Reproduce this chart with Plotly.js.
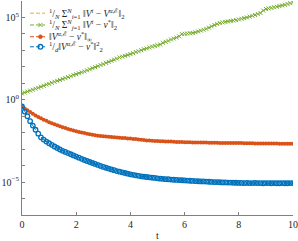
<!DOCTYPE html>
<html>
<head>
<meta charset="utf-8">
<script src="https://cdn.plot.ly/plotly-3.0.1.min.js"></script>
<style>html,body{margin:0;padding:0;background:#fff;}#chart{width:298px;height:241px;}</style>
</head>
<body>
<div id="chart"></div>
<script>
var t = [0,0.1,0.2,0.3,0.4,0.5,0.6,0.7,0.8,0.9,1,1.1,1.2,1.3,1.4,1.5,1.6,1.7,1.8,1.9,2,2.1,2.2,2.3,2.4,2.5,2.6,2.7,2.8,2.9,3,3.1,3.2,3.3,3.4,3.5,3.6,3.7,3.8,3.9,4,4.1,4.2,4.3,4.4,4.5,4.6,4.7,4.8,4.9,5,5.1,5.2,5.3,5.4,5.5,5.6,5.7,5.8,5.9,6,6.1,6.2,6.3,6.4,6.5,6.6,6.7,6.8,6.9,7,7.1,7.2,7.3,7.4,7.5,7.6,7.7,7.8,7.9,8,8.1,8.2,8.3,8.4,8.5,8.6,8.7,8.8,8.9,9,9.1,9.2,9.3,9.4,9.5,9.6,9.7,9.8,9.9,10];

var agentError = [2.40,2.75,3.16,3.63,4.07,4.68,5.37,6.17,7.08,8.32,9.33,10.7,12.3,14.1,15.8,18.2,20.9,24.0,26.9,31.6,35.5,40.7,46.8,52.5,61.7,70.8,83.2,95.5,110,129,148,174,200,234,275,316,372,417,468,525,603,676,794,891,1020,1175,1318,1514,1698,1862,2042,2291,2884,3311,3802,4571,5248,6026,7079,9772,10230,10470,10960,11480,12590,14130,15850,17780,20420,23990,28840,34670,40740,45710,50120,53700,57540,61660,64570,69180,75860,83180,91200,100000,112200,125900,141300,162200,186200,263000,331100,354800,380200,416900,446700,489800,537000,588800,660700,741300,831800];

var supError = [0.389,0.295,0.229,0.178,0.141,0.112,0.0912,0.0741,0.0617,0.0525,0.0437,0.0372,0.0324,0.0282,0.0245,0.0214,0.0191,0.0170,0.0151,0.0135,0.0123,0.0112,0.0102,0.00955,0.00871,0.00813,0.00759,0.00708,0.00661,0.00631,0.00603,0.00589,0.00575,0.00550,0.00537,0.00513,0.00501,0.00479,0.00468,0.00447,0.00437,0.00417,0.00407,0.00389,0.00372,0.00355,0.00339,0.00331,0.00324,0.00316,0.00309,0.00302,0.00302,0.00295,0.00295,0.00288,0.00282,0.00275,0.00269,0.00269,0.00263,0.00263,0.00263,0.00257,0.00257,0.00257,0.00251,0.00251,0.00251,0.00245,0.00245,0.00245,0.00245,0.00240,0.00240,0.00240,0.00240,0.00234,0.00234,0.00234,0.00234,0.00234,0.00229,0.00229,0.00229,0.00229,0.00224,0.00224,0.00224,0.00224,0.00219,0.00219,0.00219,0.00219,0.00219,0.00214,0.00214,0.00214,0.00214,0.00214,0.00214];

var msError = [0.389,0.191,0.100,0.0501,0.0269,0.0151,8.71e-3,5.25e-3,3.80e-3,2.88e-3,2.29e-3,1.82e-3,1.445e-3,1.175e-3,9.55e-4,7.94e-4,6.76e-4,5.75e-4,4.90e-4,4.17e-4,3.55e-4,3.02e-4,2.57e-4,2.19e-4,1.905e-4,1.66e-4,1.445e-4,1.259e-4,1.096e-4,9.55e-5,8.32e-5,7.41e-5,6.61e-5,5.89e-5,5.25e-5,4.68e-5,4.27e-5,3.89e-5,3.55e-5,3.24e-5,2.95e-5,2.75e-5,2.57e-5,2.40e-5,2.24e-5,2.14e-5,2.04e-5,1.95e-5,1.86e-5,1.78e-5,1.70e-5,1.62e-5,1.585e-5,1.51e-5,1.48e-5,1.41e-5,1.38e-5,1.35e-5,1.32e-5,1.29e-5,1.26e-5,1.23e-5,1.20e-5,1.175e-5,1.15e-5,1.12e-5,1.10e-5,1.10e-5,1.07e-5,1.05e-5,1.02e-5,1.00e-5,1.00e-5,9.77e-6,9.55e-6,9.55e-6,9.33e-6,9.33e-6,9.12e-6,9.12e-6,8.91e-6,8.91e-6,8.71e-6,8.91e-6,8.71e-6,8.71e-6,8.91e-6,8.71e-6,8.71e-6,8.51e-6,8.71e-6,8.71e-6,8.51e-6,8.71e-6,8.51e-6,8.51e-6,8.71e-6,8.51e-6,8.51e-6,8.71e-6,8.71e-6];

var yTickVals = [1e-7,1e-6,1e-5,1e-4,1e-3,1e-2,1e-1,1,1e1,1e2,1e3,1e4,1e5,1e6];
var yTickText = ['','','10<sup>−5</sup>','','','','','10<sup>0</sup>','','','','','10<sup>5</sup>',''];
var xTickVals = [0,2,4,6,8,10];

var seriesNames = [
  '<sup>1</sup>/<sub><i>N</i></sub> Σ<sup><i>N</i></sup><sub><i>i</i>=1</sub> ‖<i>V</i><sup><i>i</i></sup> − <i>V</i><sup><i>α</i>,ℰ</sup>‖<sub>2</sub>',
  '<sup>1</sup>/<sub><i>N</i></sub> Σ<sup><i>N</i></sup><sub><i>j</i>=1</sub> ‖<i>V</i><sup><i>i</i></sup> − <i>v</i><sup>*</sup>‖<sub>2</sub>',
  '‖<i>V</i><sup><i>α</i>,ℰ</sup> − <i>v</i><sup>*</sup>‖<sub>∞</sub>',
  '<sup>1</sup>/<sub><i>d</i></sub>‖<i>V</i><sup><i>α</i>,ℰ</sup> − <i>v</i><sup>*</sup>‖<sup>2</sup><sub>2</sub>'
];
var seriesColors = ['#EDB120', '#77AC30', '#D95319', '#0072BD'];
var seriesSymbols = ['none', 'x', 'dot', 'ring'];

var traces = [
  {x: t, y: agentError, name: seriesNames[1], type: 'scatter', mode: 'lines+markers',
   line: {color: seriesColors[1], width: 1, dash: 'dash'},
   marker: {symbol: 'x-thin', size: 4, color: seriesColors[1], line: {color: seriesColors[1], width: 1}}},
  {x: t, y: supError, name: seriesNames[2], type: 'scatter', mode: 'lines+markers',
   line: {color: seriesColors[2], width: 1, dash: 'dash'},
   marker: {symbol: 'circle', size: 4, color: seriesColors[2]}},
  {x: t, y: msError, name: seriesNames[3], type: 'scatter', mode: 'lines+markers',
   line: {color: seriesColors[3], width: 1, dash: 'dash'},
   marker: {symbol: 'circle-open', size: 4.5, color: seriesColors[3], line: {color: seriesColors[3], width: 1.3}}}
];

// compact legend (Plotly's own legend rows are too tall for this reference)
var legRowY = [0.943, 0.888, 0.833, 0.786];
var legX0 = 0.0295, legX1 = 0.085, legMX = 0.068, legTX = 0.092;
var shapes = [], annotations = [];
for (var i = 0; i < seriesNames.length; i++) {
  var c = seriesColors[i], yy = legRowY[i];
  shapes.push({type: 'line', xref: 'paper', yref: 'paper', x0: legX0, x1: legX1, y0: yy, y1: yy,
               line: {color: c, width: 1, dash: '4px,2px'}});
  if (seriesSymbols[i] === 'x') {
    shapes.push({type: 'line', xref: 'paper', yref: 'paper', xsizemode: 'pixel', ysizemode: 'pixel',
                 xanchor: legMX, yanchor: yy, x0: -2, x1: 2, y0: -2, y1: 2, line: {color: c, width: 1}});
    shapes.push({type: 'line', xref: 'paper', yref: 'paper', xsizemode: 'pixel', ysizemode: 'pixel',
                 xanchor: legMX, yanchor: yy, x0: -2, x1: 2, y0: 2, y1: -2, line: {color: c, width: 1}});
  } else if (seriesSymbols[i] === 'dot') {
    shapes.push({type: 'circle', xref: 'paper', yref: 'paper', xsizemode: 'pixel', ysizemode: 'pixel',
                 xanchor: legMX, yanchor: yy, x0: -2, x1: 2, y0: -2, y1: 2,
                 fillcolor: c, line: {color: c, width: 0.5}});
  } else if (seriesSymbols[i] === 'ring') {
    shapes.push({type: 'circle', xref: 'paper', yref: 'paper', xsizemode: 'pixel', ysizemode: 'pixel',
                 xanchor: legMX, yanchor: yy, x0: -2.3, x1: 2.3, y0: -2.3, y1: 2.3,
                 fillcolor: 'rgba(0,0,0,0)', line: {color: c, width: 1.3}});
  }
  annotations.push({xref: 'paper', yref: 'paper', x: legTX, y: yy, xanchor: 'left', yanchor: 'middle',
                    text: seriesNames[i], showarrow: false, align: 'left',
                    font: {size: 9.5, family: 'Liberation Serif, DejaVu Serif, serif', color: '#262626'}});
}

var layout = {
  width: 298, height: 241,
  margin: {l: 22, r: 5, t: 1, b: 26, pad: 0},
  paper_bgcolor: '#fff', plot_bgcolor: '#fff',
  font: {family: 'Liberation Serif, DejaVu Serif, serif', size: 10, color: '#262626'},
  showlegend: false,
  shapes: shapes,
  annotations: annotations,
  xaxis: {range: [0, 10], tickvals: xTickVals, ticks: 'inside', ticklen: 3, tickcolor: '#808080',
          showline: true, linecolor: '#808080', linewidth: 1, showgrid: false, zeroline: false,
          mirror: false, tickfont: {size: 10},
          title: {text: 't', font: {size: 10}, standoff: 2}},
  yaxis: {type: 'log', range: [-7, 6], tickvals: yTickVals, ticktext: yTickText, ticks: 'inside',
          ticklen: 3, tickcolor: '#808080', showline: true, linecolor: '#808080', linewidth: 1,
          showgrid: false, zeroline: false, mirror: false, tickfont: {size: 10}}
};

Plotly.newPlot('chart', traces, layout, {staticPlot: true, displayModeBar: false});
</script>
</body>
</html>
